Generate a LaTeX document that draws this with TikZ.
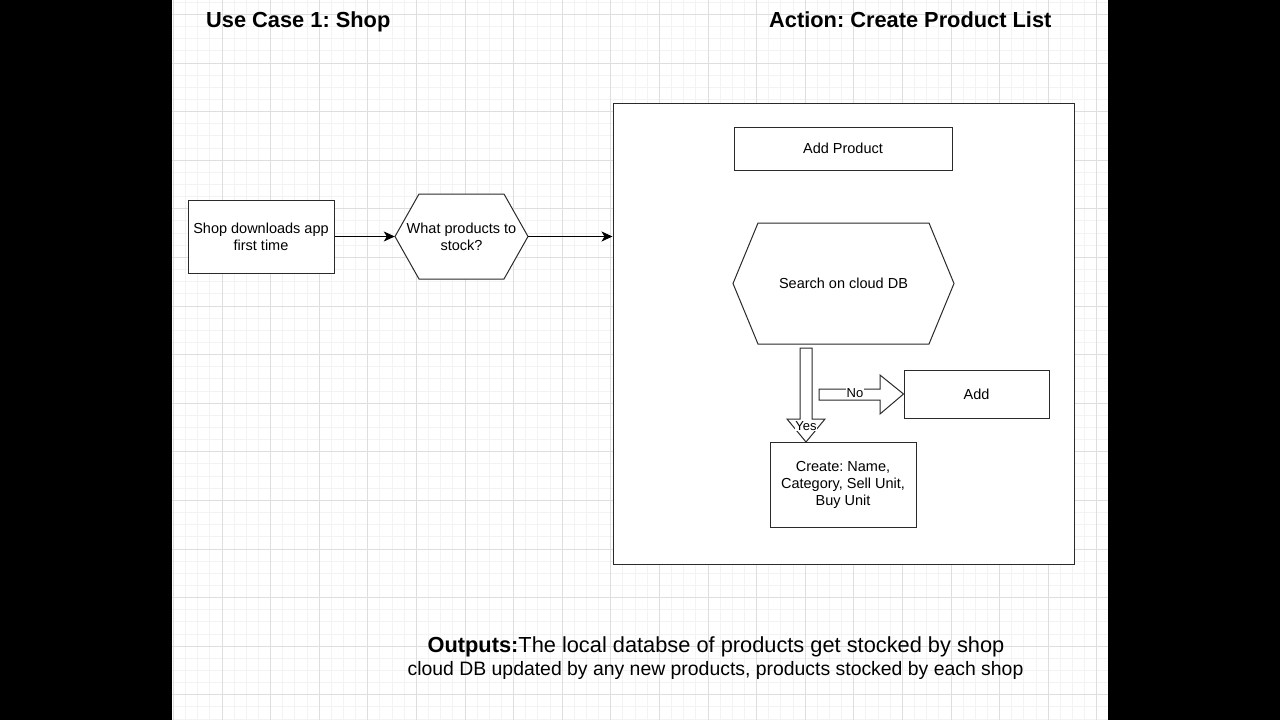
\documentclass[tikz,border=0pt]{standalone}
\usepackage{fontspec}
\setmainfont{Liberation Sans}
\usetikzlibrary{arrows.meta,calc}
\definecolor{gridminor}{HTML}{F3F3F3}
\definecolor{gridmajor}{HTML}{DEDEDE}
\definecolor{edge}{HTML}{2A2A2A}
\tikzset{
  box/.style={draw=edge, line width=1pt, fill=white, inner sep=0pt, align=center,
    font=\fontsize{14.5}{17}\selectfont},
  hextext/.style={inner sep=0pt, align=center, font=\fontsize{14.5}{17}\selectfont},
  hexline/.style={draw=edge, line width=1pt, fill=white, line join=miter},
  conn/.style={draw=black, line width=1pt, -{Stealth[length=11pt,width=10pt,inset=3pt]}},
  blockarrow/.style={draw=edge, line width=1pt, fill=white, line join=miter},
  lbl/.style={fill=white, inner sep=0.6pt, font=\fontsize{13}{15}\selectfont},
  titletext/.style={inner sep=0pt, anchor=base west, font=\fontsize{21.8}{26}\bfseries\selectfont},
}
\begin{document}
\frenchspacing
\begin{tikzpicture}[x=1pt,y=-1pt]
\useasboundingbox (0,0) rectangle (1280,720);
% page and bars
\fill[white] (172,0) rectangle (1108,720);
\fill[black] (0,0) rectangle (172,720);
\fill[black] (1108,0) rectangle (1280,720);
% grid
\foreach \k in {-4,...,72} \draw[gridminor, line width=1pt] ({222+12.15*\k},0) -- ({222+12.15*\k},720);
\foreach \k in {-5,...,54} \draw[gridminor, line width=1pt] (172,{63+12.15*\k}) -- (1108,{63+12.15*\k});
\foreach \k in {-1,...,18} \draw[gridmajor, line width=1pt] ({222+48.6*\k},0) -- ({222+48.6*\k},720);
\foreach \k in {-1,...,13} \draw[gridmajor, line width=1pt] (172,{63+48.6*\k}) -- (1108,{63+48.6*\k});

% titles
\node[titletext] (t1) at (206,27.5) {Use Case 1: Shop};
\node[titletext] (t2) at (769,27.5) {Action: Create Product List};

% left flow
\node[box, minimum width=146pt, minimum height=73pt] (shop) at (261,236.5) {Shop downloads app\\first time};
\draw[hexline] (395,236.5) -- (419,194) -- (504,194) -- (528,236.5) -- (504,279) -- (419,279) -- cycle;
\node[hextext, minimum width=133pt, minimum height=85pt] (q) at (461.5,236.5) {What products to\\stock?};

% container
\node[box, minimum width=461pt, minimum height=461pt] (cont) at (843.5,333.5) {};

\draw[conn] (shop.east) -- (q.west);
\draw[conn] (q.east) -- (q.east -| cont.west);

\node[box, minimum width=218pt, minimum height=43pt] (addp) at (843,148.5) {Add Product};
\draw[hexline] (733,283.5) -- (758,223) -- (929,223) -- (954,283.5) -- (929,344) -- (758,344) -- cycle;
\node[hextext, minimum width=221pt, minimum height=121pt] (search) at (843.5,283.5) {Search on cloud DB};

\node[box, minimum width=145pt, minimum height=48pt] (add) at (976.5,394) {Add};
\node[box, minimum width=146pt, minimum height=85pt] (create) at (843,484.5) {Create: Name,\\Category, Sell Unit,\\Buy Unit};

% block arrows
\draw[blockarrow] (800,348) -- (812,348) -- (812,419) -- (825,419) -- (806,442) -- (787,419) -- (800,419) -- cycle;
\node[lbl] (yes) at (806,426) {Yes};
\draw[blockarrow] (819,389) -- (880,389) -- (880,375) -- (add.west) -- (880,414) -- (880,400) -- (819,400) -- cycle;
\node[lbl] (no) at (855,393) {No};

% outputs
\node[inner sep=0pt, anchor=base] (out1) at (716,652) {\fontsize{21.8}{26}\selectfont\textbf{Outputs:}The local databse of products get stocked by shop};
\node[inner sep=0pt, anchor=base] (out2) at (715.5,675.5) {\fontsize{19.4}{23}\selectfont cloud DB updated by any new products, products stocked by each shop};
\end{tikzpicture}
\end{document}
